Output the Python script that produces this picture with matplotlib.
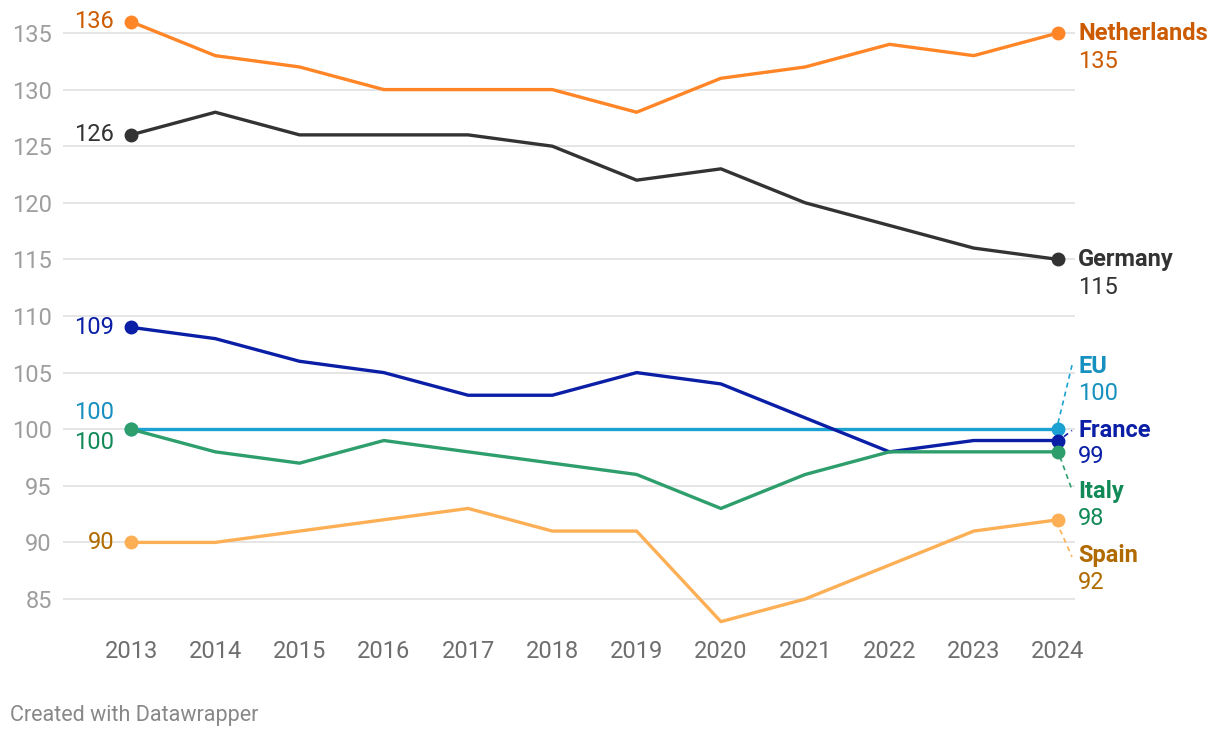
import matplotlib
matplotlib.use("Agg")
import matplotlib.pyplot as plt

plt.rcParams['font.family'] = ['Roboto', 'DejaVu Sans']

years = [2013, 2014, 2015, 2016, 2017, 2018, 2019, 2020, 2021, 2022, 2023, 2024]
netherlands = [136, 133, 132, 130, 130, 130, 128, 131, 132, 134, 133, 135]
germany = [126, 128, 126, 126, 126, 125, 122, 123, 120, 118, 116, 115]
france = [109, 108, 106, 105, 103, 103, 105, 104, 101, 98, 99, 99]
eu = [100, 100, 100, 100, 100, 100, 100, 100, 100, 100, 100, 100]
italy = [100, 98, 97, 99, 98, 97, 96, 93, 96, 98, 98, 98]
spain = [90, 90, 91, 92, 93, 91, 91, 83, 85, 88, 91, 92]
yticks = [85, 90, 95, 100, 105, 110, 115, 120, 125, 130, 135]

W, H = 1220, 738
FS = 17
fig = plt.figure(figsize=(W / 100, H / 100), dpi=100)
L, R, T, B = 63, 1075, 10, 630
ax = fig.add_axes([L / W, 1 - B / H, (R - L) / W, (B - T) / H])
xpx = (1058 - 131) / 11.0
ax.set_xlim(2013 - (131 - L) / xpx, 2024 + (R - 1058) / xpx)
ypx = (599 - 33) / 50.0
ax.set_ylim(85 - (B - 599) / ypx, 135 + (33 - T) / ypx)

for s in ax.spines.values():
    s.set_visible(False)
ax.set_yticks(yticks)
ax.set_xticks(years)
ax.tick_params(axis='y', length=0, pad=8, labelsize=FS, labelcolor='#9e9e9e')
ax.tick_params(axis='x', length=0, pad=7, labelsize=FS, labelcolor='#6e6e6e')
ax.grid(axis='y', color='#e0e0e0', linewidth=1.2)
ax.set_axisbelow(True)

series = [
    ("Netherlands", netherlands, '#ff8526', '#cc5a00'),
    ("Germany", germany, '#333333', '#333333'),
    ("Spain", spain, '#fdaf55', '#b06a00'),
    ("EU", eu, '#1ba1d2', '#1690be'),
    ("France", france, '#0a1ea6', '#0a1ea6'),
    ("Italy", italy, '#2e9e6c', '#128a58'),
]
for name, vals, lc, tc in series:
    ax.plot(years, vals, color=lc, linewidth=2.4, solid_capstyle='round', zorder=3)
    ax.plot([years[0], years[-1]], [vals[0], vals[-1]], 'o', color=lc,
            markersize=9, zorder=4)

left = {
    "Netherlands": 0, "Germany": 0, "France": 0, "EU": 17, "Italy": -13, "Spain": 0,
}
right = {
    "Netherlands": (0, -29), "Germany": (0, -28), "EU": (63, 36),
    "France": (10, -16), "Italy": (-40, -67), "Spain": (-36, -63),
}
for name, vals, lc, tc in series:
    ax.annotate(str(vals[0]), (years[0], vals[0]), xytext=(-17, left[name]),
                textcoords='offset pixels', ha='right', va='center',
                fontsize=FS, color=tc, zorder=5)
    no, vo = right[name]
    ax.annotate(name, (years[-1], vals[-1]), xytext=(20, no),
                textcoords='offset pixels', ha='left', va='center',
                fontsize=FS, fontweight='bold', color=tc, zorder=5,
                annotation_clip=False)
    ax.annotate(str(vals[-1]), (years[-1], vals[-1]), xytext=(20, vo),
                textcoords='offset pixels', ha='left', va='center',
                fontsize=FS, color=tc, zorder=5, annotation_clip=False)

conns = {
    "EU": ((0, 6), (14, 64)),
    "France": ((6, 4), (14, 10)),
    "Italy": ((2, -5), (14, -38)),
    "Spain": ((2, -10), (14, -37)),
}
fig.canvas.draw()
fig_tr = fig.transFigure.inverted()
for name, vals, lc, tc in series:
    if name in conns:
        (a1, b1), (a2, b2) = conns[name]
        x0, y0 = ax.transData.transform((years[-1], vals[-1]))
        p1 = fig_tr.transform((x0 + a1, y0 + b1))
        p2 = fig_tr.transform((x0 + a2, y0 + b2))
        fig.add_artist(plt.Line2D([p1[0], p2[0]], [p1[1], p2[1]],
                                  transform=fig.transFigure, color=lc,
                                  linewidth=1.2, linestyle=(0, (3, 2.5))))

fig.text(10 / W, 1 - 715 / H, "Created with Datawrapper", fontsize=15.5,
         color='#888888', ha='left', va='center')

fig.savefig("out.png", dpi=100)
